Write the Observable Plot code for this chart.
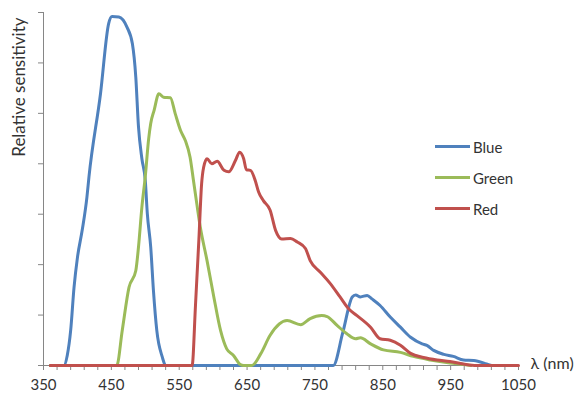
<!DOCTYPE html>
<html>
<head>
<meta charset="utf-8">
<script src="https://cdn.jsdelivr.net/npm/d3@7"></script>
<script src="https://cdn.jsdelivr.net/npm/@observablehq/plot@0.6"></script>
<style>
  body { margin: 0; background: #fff; }
  #wrap { position: relative; width: 584px; height: 400px; font-family: Lato, sans-serif; }
  #legend { position: absolute; left: 435px; top: 131px; font-size: 15px; color: #333; }
  .item { display: flex; align-items: center; height: 31px; }
  .sw { width: 35px; height: 3px; margin-right: 3px; }
</style>
</head>
<body>
<div id="wrap"><div id="chart"></div><div id="legend"></div></div>
<script>
// Wavelength (nm) and relative sensitivity (arbitrary units, 0-7)
const blueWl  = [360,380,385,390,395,400,407,414,417,434,446,451,461,473,481,486,490,495,500,503,508,512,517,525,530,600,700,777,791,805,810,817,827,834,846,861,876,891,908,915,925,940,954,969,984,1003,1010];
const blueVal = [0,0,0.2,0.69,1.55,2.14,2.68,3.34,3.74,5.39,6.78,6.92,6.91,6.71,6.38,5.72,4.73,4.1,3.67,3.01,2.35,1.49,0.69,0.17,0,0,0,0,0.65,1.36,1.40,1.36,1.39,1.32,1.19,0.96,0.76,0.56,0.43,0.40,0.30,0.22,0.18,0.11,0.10,0.03,0];

const greenWl  = [360,458,466,476,486,490,495,500,505,508,513,520,527,537,544,552,559,566,571,576,581,591,601,611,620,630,640,645,657,670,684,709,729,743,760,768,783,797,810,817,832,851,876,895,920,949,969,980];
const greenVal = [0,0,0.69,1.55,1.88,2.35,3.14,3.75,4.5,4.8,5.06,5.39,5.32,5.31,5.0,4.66,4.46,4.13,3.67,3.2,2.75,2.08,1.36,0.69,0.33,0.2,0.02,0,0,0.23,0.6,0.89,0.81,0.93,0.99,0.97,0.79,0.63,0.53,0.55,0.43,0.31,0.26,0.18,0.11,0.05,0.02,0];

const redWl  = [360,569,574,579,583,586,591,598,606,616,623,633,639,645,649,655,662,667,674,684,692,701,714,724,736,743,758,773,787,800,812,832,846,861,876,891,910,930,949,969,988,1050];
const redVal = [0,0,1.2,2.5,3.6,3.93,4.10,4.0,4.05,3.87,3.84,4.07,4.23,4.10,3.88,3.87,3.67,3.44,3.27,3.08,2.68,2.51,2.52,2.45,2.32,2.08,1.85,1.62,1.36,1.12,0.99,0.76,0.53,0.50,0.40,0.24,0.16,0.11,0.08,0.03,0,0];

const seriesNames = ["Blue", "Green", "Red"];
const seriesColors = ["#4F81BD", "#9BBB59", "#C0504D"];
const xTicks = d3.range(350, 1051, 20);
const xLabelTicks = d3.range(350, 1051, 100);
const yTicks = d3.range(0, 8, 1);

const toRows = (wl, val) => wl.map((w, i) => ({wl: w, v: val[i]}));
const seriesData = [toRows(blueWl, blueVal), toRows(greenWl, greenVal), toRows(redWl, redVal)];

const axisColor = "#868686";
const chart = Plot.plot({
  width: 584,
  height: 400,
  marginLeft: 43,
  marginRight: 66,
  marginTop: 12,
  marginBottom: 35,
  style: {fontFamily: "Lato, sans-serif", fontSize: "15px", color: "#333", background: "#fff", overflow: "visible"},
  x: {domain: [350, 1050]},
  y: {domain: [0, 7]},
  marks: [
    Plot.axisY({ticks: yTicks, tickFormat: () => "", tickSize: 5, stroke: axisColor, label: null}),
    Plot.axisX({ticks: xTicks, tickFormat: d => xLabelTicks.includes(d) ? String(d) : "", tickSize: 5, tickPadding: 9, stroke: axisColor, label: null, fill: "#333", fontSize: 15}),
    Plot.ruleX([350], {stroke: axisColor}),
    Plot.ruleY([0], {stroke: axisColor}),
    ...seriesData.map((d, i) => Plot.line(d, {x: "wl", y: "v", stroke: seriesColors[i], strokeWidth: 3, curve: "monotone-x"})),
    Plot.text(["Relative sensitivity"], {frameAnchor: "top-left", rotate: -90, textAnchor: "end", lineAnchor: "bottom", dx: -19, dy: 5, fontSize: 17, fill: "#333"}),
    Plot.text(["λ (nm)"], {frameAnchor: "bottom-right", textAnchor: "start", dx: 12, dy: 3, fontSize: 16, fill: "#333"})
  ]
});
document.getElementById("chart").appendChild(chart);

const legend = document.getElementById("legend");
seriesNames.forEach((n, i) => {
  const item = document.createElement("div");
  item.className = "item";
  item.innerHTML = `<div class="sw" style="background:${seriesColors[i]}"></div><span>${n}</span>`;
  legend.appendChild(item);
});
</script>
</body>
</html>
